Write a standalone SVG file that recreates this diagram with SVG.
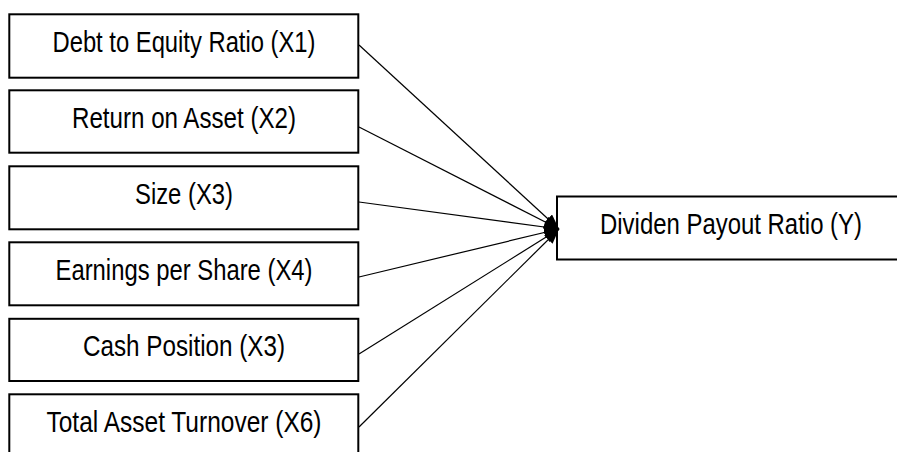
<svg xmlns="http://www.w3.org/2000/svg" width="897" height="452" viewBox="0 0 897 452">
<defs>
<style>
.box{fill:#fff;stroke:#000;stroke-width:2}
.lbl{font-family:"Liberation Sans",Arial,sans-serif;font-size:29px;fill:#000;text-anchor:middle}
.edge{stroke:#000;stroke-width:1.2;fill:none;marker-end:url(#arr)}
</style>
<marker id="arr" markerUnits="userSpaceOnUse" viewBox="0 0 15 12" refX="15" refY="6" markerWidth="15" markerHeight="12" orient="auto">
<path d="M0,0 L15,6 L0,12 z" fill="#000"/>
</marker>
</defs>
<rect width="897" height="452" fill="#fff"/>
<g id="x1"><rect class="box" x="9.3" y="14.3" width="349" height="63.4"/><text class="lbl" x="184" y="52" textLength="263" lengthAdjust="spacingAndGlyphs">Debt to Equity Ratio (X1)</text></g>
<g id="x2"><rect class="box" x="9.3" y="90.3" width="349" height="62.4"/><text class="lbl" x="184" y="128" textLength="224" lengthAdjust="spacingAndGlyphs">Return on Asset (X2)</text></g>
<g id="x3"><rect class="box" x="9.3" y="166.3" width="349" height="63"/><text class="lbl" x="184" y="204" textLength="98" lengthAdjust="spacingAndGlyphs">Size (X3)</text></g>
<g id="x4"><rect class="box" x="9.3" y="242.3" width="349" height="63"/><text class="lbl" x="184" y="280" textLength="257" lengthAdjust="spacingAndGlyphs">Earnings per Share (X4)</text></g>
<g id="x5"><rect class="box" x="9.3" y="318.8" width="349" height="62.2"/><text class="lbl" x="184" y="356" textLength="202" lengthAdjust="spacingAndGlyphs">Cash Position (X3)</text></g>
<g id="x6"><rect class="box" x="9.3" y="394.3" width="349" height="70"/><text class="lbl" x="184" y="432" textLength="275" lengthAdjust="spacingAndGlyphs">Total Asset Turnover (X6)</text></g>
<g id="y"><rect class="box" x="557" y="196.5" width="360" height="63"/><text class="lbl" x="731" y="234" textLength="262" lengthAdjust="spacingAndGlyphs">Dividen Payout Ratio (Y)</text></g>
<g id="connectors">
<line class="edge" x1="359" y1="45" x2="559" y2="229"/>
<line class="edge" x1="359" y1="127" x2="559" y2="229"/>
<line class="edge" x1="359" y1="202" x2="559" y2="229"/>
<line class="edge" x1="359" y1="277" x2="559" y2="229"/>
<line class="edge" x1="359" y1="354" x2="559" y2="229"/>
<line class="edge" x1="359" y1="427" x2="559" y2="229"/>
</g>
</svg>
